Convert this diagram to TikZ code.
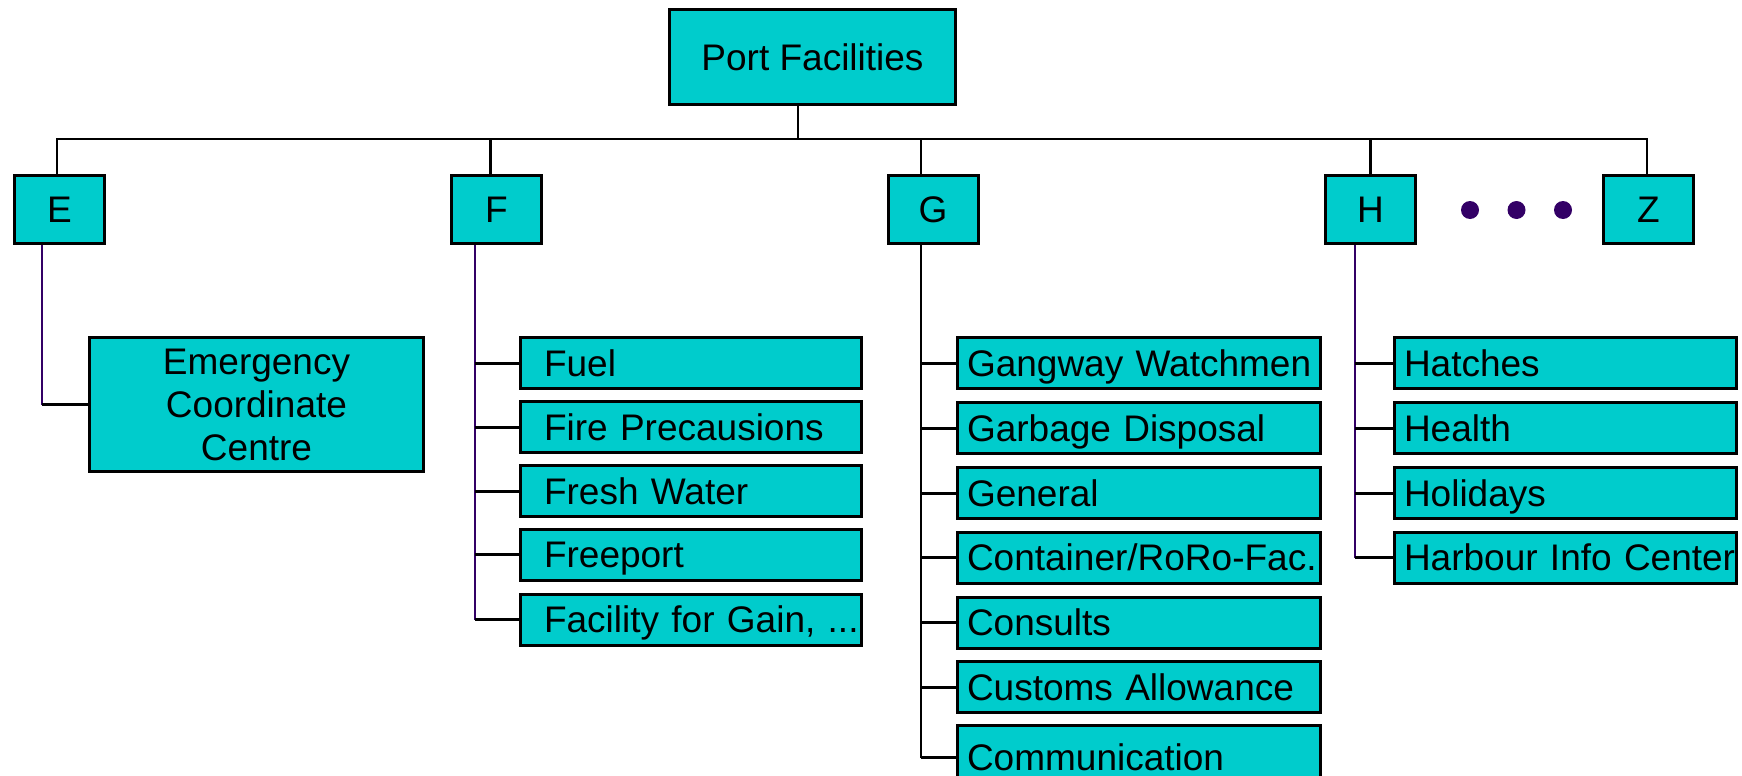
\documentclass[tikz,border=0pt]{standalone}
\usepackage{fontspec}
\setmainfont{Liberation Sans}
\definecolor{boxcyan}{HTML}{00CCCC}
\definecolor{stemviolet}{HTML}{330066}
\begin{document}
\begin{tikzpicture}[x=0.5pt,y=-0.5pt,
  box/.style={draw=black,line width=1.5pt,fill=boxcyan,inner sep=0pt,
    font=\fontsize{18.5}{20.5}\selectfont,text height=13.2pt,text depth=0pt},
  letterbox/.style={box,minimum width=45pt,minimum height=34pt},
  leafF/.style={box,minimum width=170.5pt,minimum height=25.5pt,text width=147pt,align=left},
  leafG/.style={box,minimum width=181.5pt,minimum height=25.5pt,text width=172pt,align=left},
  leafH/.style={box,minimum width=171pt,minimum height=25.5pt,text width=161.5pt,align=left},
  bus/.style={draw=black,line width=1.2pt,line join=miter},
  tick/.style={draw=black,line width=1.5pt},
  vstem/.style={draw=stemviolet,line width=1pt},
  gstem/.style={draw=black,line width=1.2pt},
  dot/.style={circle,fill=stemviolet,inner sep=0pt,minimum size=9pt}
]
\clip (0,0) rectangle (1742,776);
\fill[white] (0,0) rectangle (1742,776);

% root
\node[box,minimum width=143pt,minimum height=47.5pt] (root) at (812.5,57) {Port Facilities};

% level 1
\node[letterbox] (E) at (59.5,209.5) {E};
\node[letterbox] (F) at (496.5,209.5) {F};
\node[letterbox] (G) at (933,209.5) {G};
\node[letterbox] (H) at (1370.5,209.5) {H};
\node[letterbox] (Z) at (1648.5,209.5) {Z};

\node[dot] (d1) at (1470,210) {};
\node[dot] (d2) at (1516.5,210) {};
\node[dot] (d3) at (1563,210) {};

% bus
\coordinate (busmid) at (798,139);
\draw[bus] ([xshift=-1.25pt]E.north) |- (busmid) -| ([xshift=-0.75pt]Z.north);
\draw[bus] ([xshift=-7.25pt]root.south) -- ([xshift=-7.25pt]root.south |- busmid);
\draw[bus] ([xshift=-3pt]F.north) -- ([xshift=-3pt]F.north |- busmid);
\draw[bus] ([xshift=-6pt]G.north) -- ([xshift=-6pt]G.north |- busmid);
\draw[bus] (H.north) -- (H.north |- busmid);

% E branch
\node[box,minimum width=167pt,minimum height=67pt,align=center,text height=,text depth=,
  font=\fontsize{18.5}{21.5}\selectfont] (ecc) at (256.5,404.5) {Emergency\\Coordinate\\Centre};
\draw[vstem] ([xshift=-8.75pt]E.south) -- ([xshift=-8.75pt]E.south |- ecc.west);
\draw[tick] ([xshift=-8.75pt]E.south |- ecc.west) -- (ecc.west);

% F branch
\node[leafF] (f1) at (691,363) {Fuel};
\node[leafF] (f2) at (691,427) {Fire Precausions};
\node[leafF] (f3) at (691,491) {Fresh Water};
\node[leafF] (f4) at (691,554.5) {Freeport};
\node[leafF] (f5) at (691,619.5) {\mbox{Facility for Gain, ...}};
\draw[vstem] ([xshift=-10.75pt]F.south) -- ([xshift=-10.75pt]F.south |- f5.west);
\foreach \n in {f1,f2,f3,f4,f5}
  \draw[tick] ([xshift=-10.75pt]F.south |- \n.west) -- (\n.west);

% G branch
\node[leafG] (g1) at (1139,363) {\mbox{Gangway Watchmen}};
\node[leafG] (g2) at (1139,428) {Garbage Disposal};
\node[leafG] (g3) at (1139,493) {General};
\node[leafG] (g4) at (1139,557.5) {\mbox{Container/RoRo-Fac.}};
\node[leafG] (g5) at (1139,622.5) {Consults};
\node[leafG] (g6) at (1139,687) {Customs Allowance};
\node[leafG,minimum height=32pt] (g7) at (1139,757.5) {Communication};
\draw[gstem] ([xshift=-6pt]G.south) -- ([xshift=-6pt]G.south |- g7.west);
\foreach \n in {g1,g2,g3,g4,g5,g6,g7}
  \draw[tick] ([xshift=-6pt]G.south |- \n.west) -- (\n.west);

% H branch
\node[leafH] (h1) at (1565.5,363) {Hatches};
\node[leafH] (h2) at (1565.5,428) {Health};
\node[leafH] (h3) at (1565.5,493) {Holidays};
\node[leafH] (h4) at (1565.5,557.5) {\mbox{Harbour Info Center}};
\draw[vstem] ([xshift=-7.75pt]H.south) -- ([xshift=-7.75pt]H.south |- h4.west);
\foreach \n in {h1,h2,h3,h4}
  \draw[tick] ([xshift=-7.75pt]H.south |- \n.west) -- (\n.west);
\end{tikzpicture}
\end{document}
